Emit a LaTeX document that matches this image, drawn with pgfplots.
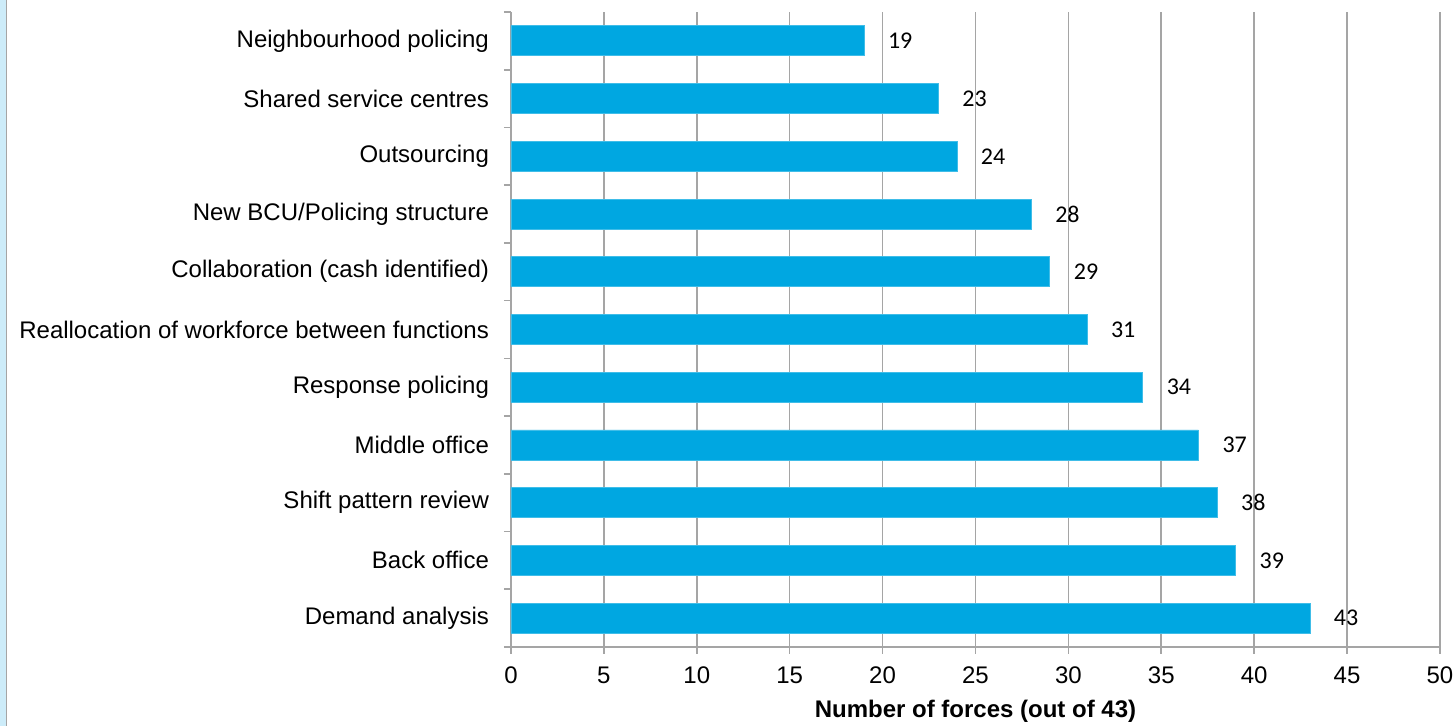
\documentclass[border=0pt]{standalone}
\usepackage{pgfplots}
\pgfplotsset{compat=1.18}
\usepackage{fontspec}
\setmainfont{Liberation Sans}
\newfontfamily\labfont{Carlito}
\definecolor{barblue}{RGB}{0,167,225}
\definecolor{gridgray}{RGB}{165,165,165}
\definecolor{stripblue}{RGB}{205,236,249}
\begin{document}
\begin{tikzpicture}
\useasboundingbox (-255.5pt,-39.5pt) rectangle (471pt,323.5pt);
\fill[stripblue] (-255.5pt,-39.5pt) rectangle (-252.5pt,323.5pt);
\draw[gridgray,line width=0.8pt] (-252.3pt,-39.5pt) -- (-252.3pt,323.5pt);
\begin{axis}[
  at={(0,0)}, anchor=south west,
  scale only axis,
  width=464.5pt, height=317.5pt,
  xbar, bar width=15pt,
  xmin=0, xmax=50,
  ymin=-0.5, ymax=10.5,
  axis x line*=bottom, axis y line*=left,
  axis line style={gridgray, line width=0.8pt},
  xtick={0,5,...,50},
  xmajorgrids,
  grid style={gridgray, line width=0.8pt},
  major tick style={gridgray, line width=0.8pt},
  xtick style={gridgray},
  tick align=outside,
  major tick length=3.5pt,
  ytick={0,...,10},
  yticklabels={Demand analysis, Back office, Shift pattern review, Middle office, Response policing, Reallocation of workforce between functions, {Collaboration (cash identified)}, New BCU/Policing structure, Outsourcing, Shared service centres, Neighbourhood policing},
  ytick style={draw=none},
  extra y ticks={-0.5,0.5,...,10.5},
  extra y tick labels={},
  extra y tick style={ytick style={draw=gridgray, line width=0.8pt}, major tick length=3.5pt, grid=none},
  yticklabel style={font=\fontsize{12}{14}\selectfont, xshift=-4pt},
  xticklabel style={font=\fontsize{12}{14}\selectfont, yshift=-3pt},
  /pgf/number format/assume math mode=true,
  xlabel={\bfseries Number of forces (out of 43)},
  xlabel style={font=\fontsize{12}{14}\selectfont, yshift=-1pt},
  nodes near coords,
  nodes near coords style={font=\labfont\fontsize{12}{14}\selectfont, anchor=west, xshift=8.5pt, text=black},
]
\addplot[xbar, fill=barblue, draw=barblue!75!white, line width=0.4pt] coordinates {(43,0) (39,1) (38,2) (37,3) (34,4) (31,5) (29,6) (28,7) (24,8) (23,9) (19,10)};
\end{axis}
\end{tikzpicture}
\end{document}
